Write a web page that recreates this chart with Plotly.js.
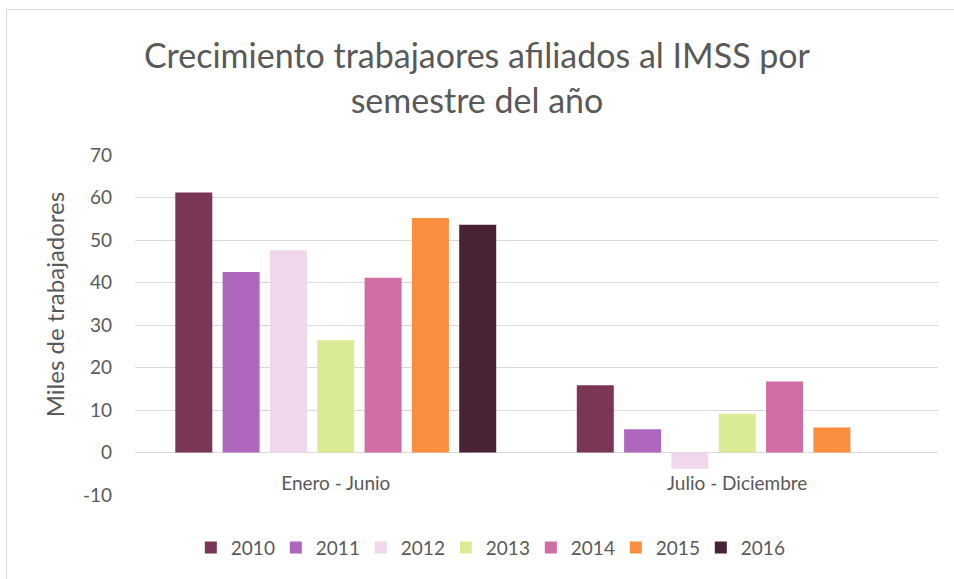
<!DOCTYPE html>
<html>
<head>
<meta charset="utf-8">
<script src="https://cdn.plot.ly/plotly-3.0.1.min.js"></script>
<style>
  body { margin: 0; background: #fff; }
  #wrap { position: relative; width: 954px; height: 579px; overflow: hidden; }
  #plot-container { width: 954px; height: 579px; }
  #frame { position: absolute; left: 6px; top: 9px; width: 960px; height: 600px;
           border: 1px solid #d9d9d9; pointer-events: none; }
</style>
</head>
<body>
<div id="wrap">
  <div id="plot-container"></div>
  <div id="frame"></div>
</div>
<script>
const semestres = ["Enero - Junio", "Julio - Diciembre"];
const years = ["2010", "2011", "2012", "2013", "2014", "2015", "2016"];
const v2010 = [61.2, 15.8];
const v2011 = [42.5, 5.5];
const v2012 = [47.6, -3.8];
const v2013 = [26.4, 9.1];
const v2014 = [41.1, 16.7];
const v2015 = [55.2, 5.9];
const v2016 = [53.6, null];
const yTicks = [-10, 0, 10, 20, 30, 40, 50, 60, 70];
const yTickText = ["-10", "0", "10", "20", "30", "40", "50", "60", "70"];
const colors = ["#7B3656", "#AE67BD", "#F0D7EB", "#D9EC94", "#D06DA2", "#FA8E3F", "#4A2235"];

document.addEventListener("DOMContentLoaded", function () {
    const series = [v2010, v2011, v2012, v2013, v2014, v2015, v2016];
    const traces = series.map(function (vals, i) {
        return {
            x: semestres,
            y: vals,
            type: "bar",
            name: years[i],
            marker: { color: colors[i] },
            hoverinfo: "x+y+name",
        };
    });

    const grey = "#595959";
    const layout = {
        width: 954,
        height: 579,
        margin: { l: 135, r: 16, t: 155, b: 84 },
        paper_bgcolor: "#fff",
        plot_bgcolor: "#fff",
        font: { family: "Lato, Open Sans, sans-serif", color: grey, size: 18 },
        title: {
            text: "Crecimiento trabajaores afiliados al IMSS por<br>semestre del año",
            font: { size: 34, color: grey, family: "Lato, Open Sans, sans-serif" },
            x: 0.5, xanchor: "center",
            y: 0.882, yanchor: "middle", yref: "container",
        },
        barmode: "group",
        bargap: 0.175,
        bargroupgap: 0.218,
        xaxis: {
            anchor: "free",
            position: 0.125,
            showgrid: false,
            showline: false,
            ticks: "",
            ticklabelstandoff: 17,
            tickfont: { size: 19, color: grey },
            fixedrange: true,
        },
        yaxis: {
            range: [-10, 70],
            tickvals: yTicks,
            ticktext: yTickText,
            gridcolor: "#d9d9d9",
            zerolinecolor: "#d9d9d9",
            showline: false,
            ticklabelstandoff: 22,
            tickfont: { size: 19, color: grey },
            fixedrange: true,
        },
        annotations: [{
            text: "Miles de trabajadores",
            textangle: -90,
            xref: "paper", yref: "paper",
            x: -0.1, xanchor: "center",
            y: 0.56, yanchor: "middle",
            showarrow: false,
            font: { size: 24, color: grey },
        }],
        showlegend: true,
        legend: {
            orientation: "h",
            x: 0.44, xanchor: "center",
            y: -0.155, yanchor: "middle",
            font: { size: 19, color: grey },
            entrywidth: 40,
            entrywidthmode: "pixels",
            traceorder: "normal",
        },
    };

    Plotly.newPlot("plot-container", traces, layout, { displayModeBar: false });
});
</script>
</body>
</html>
